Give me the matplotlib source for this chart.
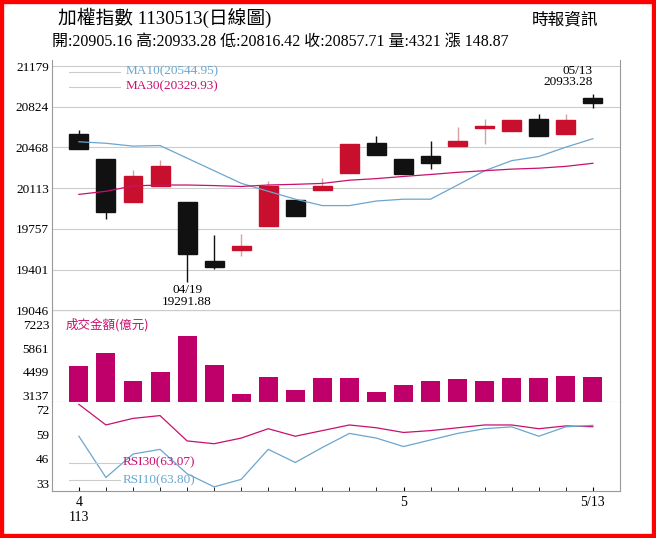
import matplotlib
matplotlib.use("Agg")
import matplotlib.pyplot as plt
from matplotlib.patches import Rectangle
import numpy as np

FAM = ['Liberation Serif', 'Noto Sans CJK TC']
plt.rcParams['font.family'] = FAM

opens  = [20590,20367,19994,20132,19994,19476,19570,19779,20011,20099,20243,20507,20367,20394,20485,20642,20609,20714,20582,20905.16]
closes = [20452,19906,20215,20303,19540,19421,19603,20132,19868,20127,20499,20402,20232,20334,20527,20659,20706,20568,20711,20857.71]
highs  = [20623,20367,20270,20361,19994,19699,19713,20174,20011,20204,20499,20568,20367,20521,20645,20720,20706,20761,20761,20933.28]
lows   = [20452,19846,19994,20132,19291.88,19404,19520,19779,19868,20099,20243,20402,20232,20278,20485,20499,20609,20568,20582,20816.42]
ma10 = [20518,20505,20480,20485,20375,20265,20155,20085,20016,19960,19960,20000,20016,20016,20140,20265,20353,20389,20471,20545]
ma30 = [20058,20085,20132,20140,20140,20135,20127,20140,20146,20154,20182,20196,20215,20232,20251,20265,20279,20287,20303,20330]
volume = [4838,5594,3931,4460,6577,4876,3213,4195,3402,4120,4120,3326,3742,3969,4063,3969,4120,4120,4271,4195]
rsi30 = [75,64,67.5,69,55.5,54,57,62,58,61,64,62.5,60,61,62.5,64,64,62,63.5,63.07]
rsi10 = [58,36,48.5,51,38,31,35,51,44,52,59.5,57,52.5,56,59.5,62,63,58,63,63.8]
price_ticks = [19046,19401,19757,20113,20468,20824,21179]
vol_ticks = [3137,4499,5861,7223]
rsi_ticks = [33,46,59,72]

RED = '#c8102e'; BLK = '#111111'; BLUE = '#6aa6cf'; MAG = '#c8106e'; VBAR = '#c0006a'
x = np.arange(len(opens))

fig = plt.figure(figsize=(6.56, 5.38), dpi=100)
fig.patches.append(Rectangle((0,0),1,1,transform=fig.transFigure,fill=False,ec='red',lw=6))
L, W = 0.079, 0.866
ax1 = fig.add_axes([L, 0.42, W, 0.468])
ax2 = fig.add_axes([L, 0.253, W, 0.167], sharex=ax1)
ax3 = fig.add_axes([L, 0.087, W, 0.166], sharex=ax1)

for i in x:
    o, c, h, l = opens[i], closes[i], highs[i], lows[i]
    col = RED if c >= o else BLK
    ax1.vlines(i, l, h, color=col if col == BLK else '#d9a0a0', lw=1, zorder=2)
    lo, hi = min(o, c), max(o, c)
    ax1.add_patch(Rectangle((i-0.35, lo), 0.7, max(hi-lo, 12), color=col, zorder=3))
ax1.plot(x, ma10, color=BLUE, lw=0.9, zorder=4)
ax1.plot(x, ma30, color=MAG, lw=0.9, zorder=4)
ax1.set_ylim(19029, 21231)
ax1.set_yticks(price_ticks)
ax1.grid(axis='y', color='#cccccc', lw=0.8)
ax1.plot([0.03, 0.12], [0.955, 0.955], transform=ax1.transAxes, color='#cccccc', lw=0.8)
ax1.plot([0.03, 0.12], [0.895, 0.895], transform=ax1.transAxes, color='#cccccc', lw=0.8)
ax1.text(0.13, 0.955, 'MA10(20544.95)', transform=ax1.transAxes, color=BLUE, fontsize=9.5, va='center')
ax1.text(0.13, 0.895, 'MA30(20329.93)', transform=ax1.transAxes, color=MAG, fontsize=9.5, va='center')
ax1.text(4, 19270, '04/19\n19291.88', ha='center', va='top', fontsize=9.5, linespacing=0.9)
ax1.text(19, 20990, '05/13\n20933.28', ha='right', va='bottom', fontsize=9.5, linespacing=0.9)

ax2.bar(x, [v-2740 for v in volume], bottom=2740, width=0.7, color=VBAR)
ax2.set_ylim(2740, 7960)
ax2.set_yticks(vol_ticks)
ax2.text(0.025, 0.93, '成交金額(億元)', transform=ax2.transAxes, color=MAG, fontsize=9, va='top', family=['Noto Sans CJK TC'])

ax3.plot(x, rsi30, color=MAG, lw=0.9)
ax3.plot(x, rsi10, color=BLUE, lw=0.9)
ax3.set_ylim(28.7, 76.3)
ax3.set_yticks(rsi_ticks)
ax3.plot([0.03, 0.12], [0.32, 0.32], transform=ax3.transAxes, color='#cccccc', lw=0.8)
ax3.plot([0.03, 0.12], [0.12, 0.12], transform=ax3.transAxes, color='#cccccc', lw=0.8)
ax3.text(0.125, 0.32, 'RSI30(63.07)', transform=ax3.transAxes, color=MAG, fontsize=9.5, va='center')
ax3.text(0.125, 0.12, 'RSI10(63.80)', transform=ax3.transAxes, color=BLUE, fontsize=9.5, va='center')

ax1.set_xlim(-1.0, 20.0)
for a in (ax1, ax2, ax3):
    a.tick_params(axis='y', length=0, labelsize=9.5, pad=2)
    a.spines['top'].set_visible(False)
    for s in ('left', 'right', 'bottom'):
        a.spines[s].set_color('#999999')
ax1.tick_params(axis='x', which='both', length=0, labelbottom=False)
ax2.tick_params(axis='x', which='both', length=0, labelbottom=False)
ax3.set_xticks(x, minor=True)
ax3.set_xticks([0, 12, 19])
ax3.set_xticklabels(['4\n113', '5', '5/13'], fontsize=10)
ax3.tick_params(axis='x', which='both', length=3, direction='in')

fig.text(0.088, 0.955, '加權指數 1130513(日線圖)', fontsize=13.5)
fig.text(0.81, 0.955, '時報資訊', fontsize=12, family=['Noto Sans CJK TC'])
fig.text(0.08, 0.915, '開:20905.16 高:20933.28 低:20816.42 收:20857.71 量:4321 漲 148.87', fontsize=11.5)

fig.savefig('out.png', dpi=100)
